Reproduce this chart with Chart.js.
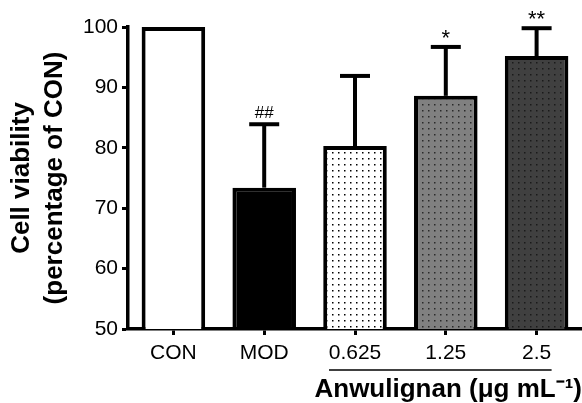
<!DOCTYPE html>
<html>
<head>
<meta charset="utf-8">
<script src="https://cdn.jsdelivr.net/npm/chart.js@4"></script>
<style>
html,body{margin:0;padding:0;background:#fff;}
#wrap{width:582px;height:403px;}
</style>
</head>
<body>
<div id="wrap"><canvas id="c" width="582" height="403"></canvas></div>
<script>
const categories = ['CON', 'MOD', '0.625', '1.25', '2.5'];
const means = [100, 73.4, 80.3, 88.6, 95.2];
const sdErrors = [0, 10.5, 11.6, 8.1, 4.6];
const marks = ['', '##', '', '*', '**'];
const yTicks = [50, 60, 70, 80, 90, 100];

function dotPattern(bg, dot, size) {
  const c = document.createElement('canvas');
  c.width = 6; c.height = 6;
  const g = c.getContext('2d');
  g.fillStyle = bg; g.fillRect(0, 0, 6, 6);
  g.fillStyle = dot; g.fillRect(2, 2, size, size);
  return g.createPattern(c, 'repeat');
}
const fills = [
  '#ffffff',
  '#000000',
  dotPattern('#ffffff', '#000000', 1.5),
  dotPattern('#808080', '#2a2a2a', 1.5),
  dotPattern('#404040', '#1a1a1a', 1.5)
];

const FONT = "'Liberation Sans', Arial, sans-serif";

const extras = {
  id: 'extras',
  afterDatasetsDraw(chart) {
    const ctx = chart.ctx;
    const y = chart.scales.y;
    const meta = chart.getDatasetMeta(0);
    ctx.save();
    ctx.strokeStyle = '#000';
    ctx.fillStyle = '#000';
    meta.data.forEach((bar, i) => {
      const top = y.getPixelForValue(means[i] + sdErrors[i]);
      const base = y.getPixelForValue(means[i]);
      if (sdErrors[i] > 0) {
        ctx.lineWidth = 4;
        ctx.beginPath();
        ctx.moveTo(bar.x, base);
        ctx.lineTo(bar.x, top);
        ctx.stroke();
        ctx.beginPath();
        ctx.moveTo(bar.x - 15, top);
        ctx.lineTo(bar.x + 15, top);
        ctx.stroke();
      }
      if (marks[i]) {
        const star = marks[i].startsWith('*');
        ctx.font = (star ? "22px " : "17px ") + FONT;
        ctx.textAlign = 'center';
        ctx.textBaseline = 'alphabetic';
        ctx.fillText(marks[i], bar.x, star ? top - 2 : top - 6);
      }
    });
    // underline for dose group
    const m = meta.data;
    ctx.lineWidth = 1.5;
    ctx.beginPath();
    ctx.moveTo(m[2].x - 26, 370);
    ctx.lineTo(m[4].x + 15, 370);
    ctx.stroke();
    ctx.restore();
  }
};

new Chart(document.getElementById('c'), {
  type: 'bar',
  data: {
    labels: categories,
    datasets: [{
      data: means,
      backgroundColor: fills,
      borderColor: '#000',
      borderWidth: 4,
      barPercentage: 0.7,
      categoryPercentage: 1.0
    }]
  },
  options: {
    responsive: false,
    animation: false,
    devicePixelRatio: 1,
    layout: { padding: { top: 27, right: 0, left: 0, bottom: 0 } },
    plugins: { legend: { display: false }, tooltip: { enabled: false } },
    scales: {
      x: {
        offset: true,
        grid: { offset: false, drawOnChartArea: false, drawTicks: true, tickLength: 6, tickWidth: 3, tickColor: '#000' },
        border: { display: true, width: 3.5, color: '#000' },
        ticks: { color: '#000', font: { family: FONT, size: 21 }, padding: 6, maxRotation: 0 },
        title: {
          display: true,
          text: 'Anwulignan (μg mL⁻¹)',
          align: 'end',
          color: '#000',
          font: { family: FONT, size: 26, weight: 'bold', lineHeight: 1 },
          padding: { top: 0, bottom: 0 }
        },
        afterFit(s) { s.height = 74; }
      },
      y: {
        min: 50, max: 100,
        afterBuildTicks(s) { s.ticks = yTicks.map(v => ({ value: v })); },
        grid: { drawOnChartArea: false, drawTicks: true, tickLength: 6, tickWidth: 3, tickColor: '#000' },
        border: { display: true, width: 3.5, color: '#000' },
        ticks: { color: '#000', font: { family: FONT, size: 21 }, padding: 4 },
        title: {
          display: true,
          text: ['Cell viability', '(percentage of CON)'],
          color: '#000',
          font: { family: FONT, size: 26, weight: 'bold', lineHeight: 1.25 },
          padding: { top: 6, bottom: 0 }
        },
        afterFit(s) { s.width = 128; }
      }
    }
  },
  plugins: [extras]
});
</script>
</body>
</html>
